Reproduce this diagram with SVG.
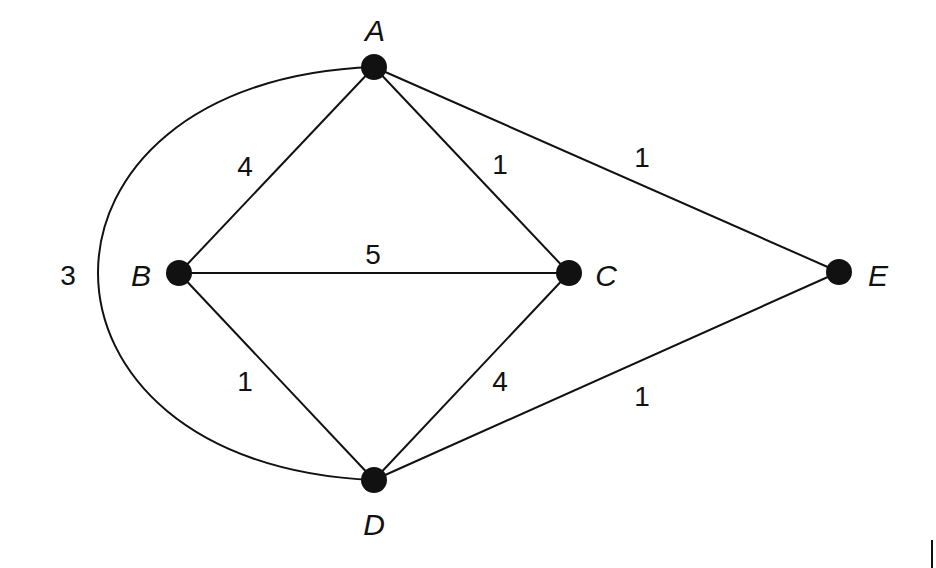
<svg xmlns="http://www.w3.org/2000/svg" width="936" height="568" viewBox="0 0 936 568">
<style>
.e{stroke:#111;stroke-width:2;fill:none}
.n{fill:#111}
text{font-family:"Liberation Sans",Arial,sans-serif;font-size:28px;fill:#111;text-anchor:middle;dominant-baseline:central}
.l{font-style:italic;font-size:30px}
</style>
<rect width="936" height="568" fill="#fff"/>
<g id="edges">
<line class="e" x1="374" y1="67" x2="179" y2="273"/>
<line class="e" x1="374" y1="67" x2="569" y2="273"/>
<line class="e" x1="374" y1="67" x2="839" y2="272"/>
<line class="e" x1="179" y1="273" x2="569" y2="273"/>
<line class="e" x1="179" y1="273" x2="374" y2="480"/>
<line class="e" x1="569" y1="273" x2="374" y2="480"/>
<line class="e" x1="839" y1="272" x2="374" y2="480"/>
<path class="e" d="M374,67 C6,80 6,465 374,480"/>
<text x="245" y="166">4</text>
<text x="500" y="164">1</text>
<text x="642" y="157">1</text>
<text x="373" y="254">5</text>
<text x="68" y="275">3</text>
<text x="245" y="381">1</text>
<text x="500" y="381">4</text>
<text x="642" y="396">1</text>
</g>
<g id="A"><circle class="n" cx="374" cy="67" r="13"/><text class="l" x="375" y="30">A</text></g>
<g id="B"><circle class="n" cx="179" cy="273" r="13"/><text class="l" x="141" y="275">B</text></g>
<g id="C"><circle class="n" cx="569" cy="273" r="13"/><text class="l" x="606" y="275">C</text></g>
<g id="D"><circle class="n" cx="374" cy="480" r="13"/><text class="l" x="374" y="524">D</text></g>
<g id="E"><circle class="n" cx="839" cy="272" r="13"/><text class="l" x="878" y="275">E</text></g>
<line x1="932" y1="540" x2="932" y2="568" stroke="#111" stroke-width="2"/>
</svg>
